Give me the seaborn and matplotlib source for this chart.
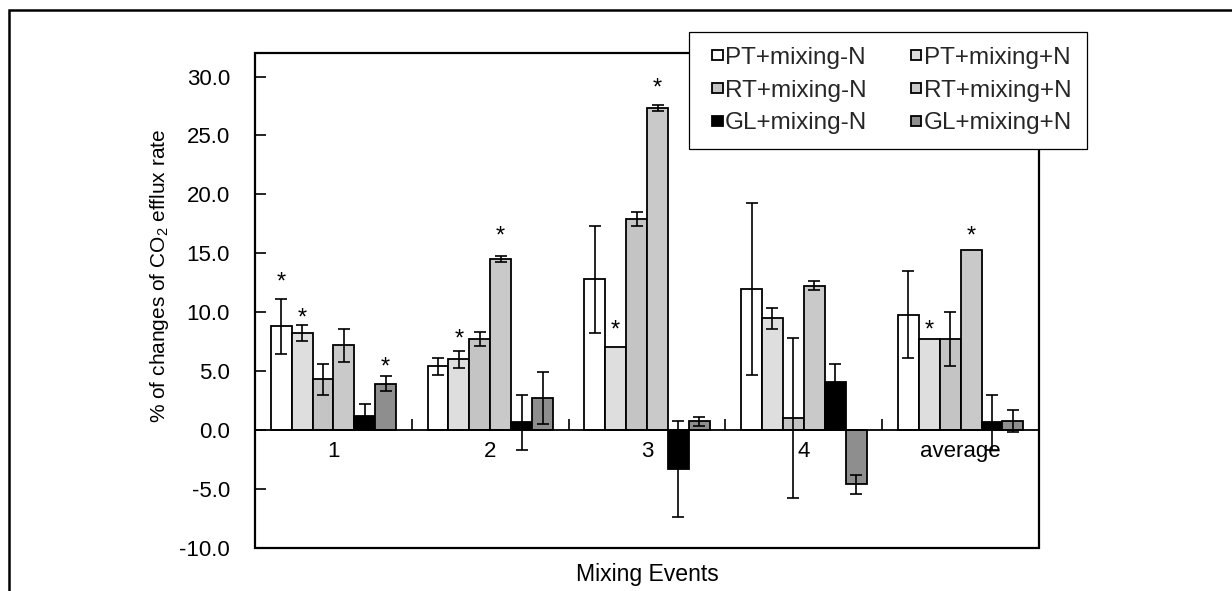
import numpy as np
import pandas as pd
import matplotlib
matplotlib.use("Agg")
import matplotlib.pyplot as plt
from matplotlib.patches import Rectangle
from matplotlib.ticker import FormatStrFormatter
from matplotlib.legend_handler import HandlerPatch
import seaborn as sns

# Mixing events on the x axis and the six treatments
events = ["1", "2", "3", "4", "average"]
series = ["PT+mixing-N", "PT+mixing+N", "RT+mixing-N",
          "RT+mixing+N", "GL+mixing-N", "GL+mixing+N"]
colors = ["#ffffff", "#dedede", "#c4c4c4", "#c9c9c9", "#000000", "#8e8e8e"]

# % change of CO2 efflux rate (mean) and standard errors; nan = no bar error
pt_minus = [8.8, 5.4, 12.8, 12.0, 9.8]
pt_minus_err = [2.3, 0.75, 4.55, 7.3, 3.7]
pt_plus = [8.25, 6.0, 7.05, 9.5, 7.7]
pt_plus_err = [0.65, 0.75, np.nan, 0.9, np.nan]
rt_minus = [4.3, 7.7, 17.9, 1.05, 7.7]
rt_minus_err = [1.3, 0.6, 0.6, 6.8, 2.3]
rt_plus = [7.2, 14.5, 27.3, 12.25, 15.25]
rt_plus_err = [1.4, 0.25, 0.25, 0.4, np.nan]
gl_minus = [1.2, 0.65, -3.3, 4.05, 0.65]
gl_minus_err = [1.0, 2.3, 4.1, 1.55, 2.35]
gl_plus = [3.95, 2.7, 0.75, -4.6, 0.75]
gl_plus_err = [0.65, 2.2, 0.4, 0.8, 0.95]

# significance markers: (event index, series index, marker height)
stars = [(0, 0, 13.1), (0, 1, 10.0), (0, 5, 5.85),
         (1, 1, 8.2), (1, 3, 17.0),
         (2, 1, 9.0), (2, 3, 29.5),
         (4, 1, 9.0), (4, 3, 17.0)]

y_ticks = [-10, -5, 0, 5, 10, 15, 20, 25, 30]

values = [pt_minus, pt_plus, rt_minus, rt_plus, gl_minus, gl_plus]
errors = [pt_minus_err, pt_plus_err, rt_minus_err, rt_plus_err, gl_minus_err, gl_plus_err]

df = pd.DataFrame({
    "event": np.tile(events, len(series)),
    "series": np.repeat(series, len(events)),
    "value": np.concatenate(values),
})

sns.set_theme(style="white")
plt.rcParams["font.family"] = ["Liberation Sans", "DejaVu Sans"]
plt.rcParams["mathtext.fontset"] = "custom"
plt.rcParams["mathtext.rm"] = "Liberation Sans"
plt.rcParams["mathtext.it"] = "Liberation Sans:italic"
plt.rcParams["axes.unicode_minus"] = False

FS = 16
LEG_FS = 17.5

fig = plt.figure(figsize=(12.32, 5.91), dpi=100)
ax = fig.add_axes([0.2070, 0.0728, 0.6364, 0.8376])

sns.barplot(data=df, x="event", y="value", hue="series", order=events,
            hue_order=series, palette=colors, edgecolor="black",
            linewidth=1.3, errorbar=None, width=0.8, gap=0, legend=False,
            saturation=1, ax=ax)

# error bars centred on each bar
for cont, vals, errs in zip(ax.containers, values, errors):
    for patch, v, e in zip(cont.patches, vals, errs):
        if np.isnan(e):
            continue
        xc = patch.get_x() + patch.get_width() / 2
        ax.errorbar(xc, v, yerr=e, fmt="none", ecolor="black",
                    elinewidth=1.2, capsize=4, capthick=1.2, zorder=5)

# significance asterisks
for ei, si, h in stars:
    patch = ax.containers[si].patches[ei]
    xc = patch.get_x() + patch.get_width() / 2
    ax.annotate("*", (xc, h), xytext=(0, -9), textcoords="offset points",
                ha="center", va="baseline", fontsize=FS + 1, color="black")

ax.set_ylim(-10, 32)
ax.set_xlim(-0.5, len(events) - 0.5)
ax.set_yticks(y_ticks)
ax.yaxis.set_major_formatter(FormatStrFormatter("%.1f"))
ax.tick_params(axis="y", direction="in", length=8, width=1.2,
               labelsize=FS, pad=18, left=True, colors="black")

# category axis sits on the zero line
ax.spines["bottom"].set_position(("data", 0))
for s in ax.spines.values():
    s.set_color("black")
    s.set_linewidth(1.3)
ax.spines["top"].set_visible(False)
ax.spines["right"].set_visible(False)
ax.add_patch(Rectangle((0, 0), 1, 1, transform=ax.transAxes, fill=False,
                       edgecolor="black", linewidth=1.6, clip_on=False,
                       zorder=6))

ax.set_xticks(range(len(events)))
ax.set_xticklabels(events)
ax.set_xticks(np.arange(0.5, len(events) - 0.5, 1.0), minor=True)
ax.tick_params(axis="x", which="major", length=0, labelsize=FS, pad=8,
               bottom=True, colors="black")
ax.tick_params(axis="x", which="minor", direction="in", length=8,
               width=1.2, bottom=True, color="black")

ax.set_xlabel("Mixing Events", fontsize=16.6, color="black")
ax.xaxis.set_label_coords(0.5, -0.031)
ax.set_ylabel("% of changes of CO$_2$ efflux rate", fontsize=15,
              color="black")
ax.yaxis.set_label_coords(-0.107, 0.55)


def small_square(legend, orig_handle, xdescent, ydescent, width, height,
                 fontsize):
    # compact square swatch, flush against the label
    s = 0.42 * fontsize
    return Rectangle((width - s - xdescent, (height - s) / 2 - ydescent), s, s)


# legend laid out row by row
order = [0, 2, 4, 1, 3, 5]
handles = [ax.containers[i].patches[0] for i in order]
labels = [series[i] for i in order]
leg = fig.legend(handles, labels, loc="upper left", ncol=2,
                 bbox_to_anchor=(689 / 1232, 1 - 32 / 591),
                 bbox_transform=fig.transFigure, borderaxespad=0,
                 fontsize=LEG_FS, frameon=True, fancybox=False, shadow=False,
                 handlelength=0.78, handleheight=0.7, handletextpad=0.1,
                 columnspacing=1.45, labelspacing=0.45, borderpad=0.6,
                 handler_map={Rectangle: HandlerPatch(patch_func=small_square)})
leg.get_frame().set_edgecolor("black")
leg.get_frame().set_linewidth(0.9)
leg.get_frame().set_alpha(1)

# figure border
fig.add_artist(Rectangle((9 / 1232, -0.05), 1.2, 1 - 10 / 591 + 0.05,
                         transform=fig.transFigure, fill=False,
                         edgecolor="black", linewidth=1.8))

fig.savefig("out.png", dpi=100)
